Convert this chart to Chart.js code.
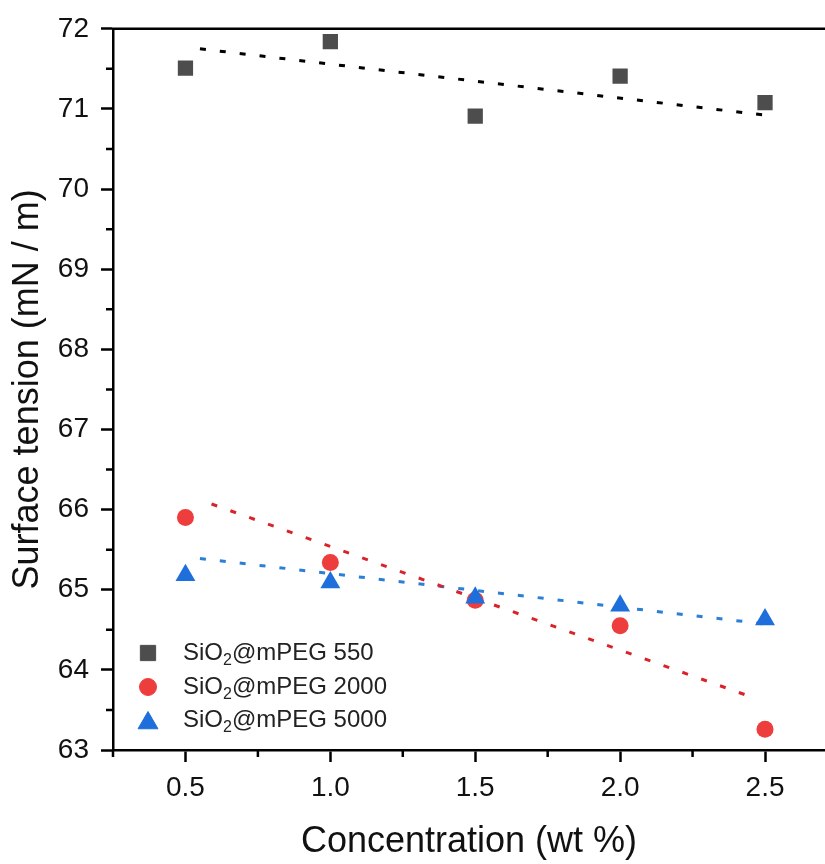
<!DOCTYPE html>
<html>
<head>
<meta charset="utf-8">
<script src="https://cdn.jsdelivr.net/npm/chart.js@4/dist/chart.umd.min.js"></script>
<style>
  body { margin: 0; background: #fff; }
  #wrap { width: 825px; height: 864px; }
</style>
</head>
<body>
<div id="wrap"><canvas id="surfChart" width="825" height="864"></canvas></div>
<script>
// concentrations (wt %)
const conc = [0.5, 1.0, 1.5, 2.0, 2.5]
// surface tension values (mN / m)
const peg550 = [71.51, 71.84, 70.91, 71.41, 71.08]
const peg2000 = [65.90, 65.34, 64.87, 64.55, 63.26]
const peg5000 = [65.18, 65.09, 64.90, 64.80, 64.63]
// dotted fit lines: [x start, x end] and [y start, y end]
const fitX550 = [0.55, 2.53]
const fitY550 = [71.75, 70.91]
const fitX2000 = [0.59, 2.47]
const fitY2000 = [66.07, 63.64]
const fitX5000 = [0.55, 2.53]
const fitY5000 = [65.39, 64.56]
// series names and axis ticks
const seriesNames = ['SiO\u2082@mPEG 550', 'SiO\u2082@mPEG 2000', 'SiO\u2082@mPEG 5000']
const xTickValues = [0.5, 1.0, 1.5, 2.0, 2.5]
const xMinorValues = [0.25, 0.75, 1.25, 1.75, 2.25]
const yTickValues = [63, 64, 65, 66, 67, 68, 69, 70, 71, 72]
const yMinorValues = [63.5, 64.5, 65.5, 66.5, 67.5, 68.5, 69.5, 70.5, 71.5]

const FONT = "'Liberation Sans', Arial, sans-serif"

function pts(xs, ys) {
    return xs.map((x, i) => ({x: x, y: ys[i]}))
}

//draws top frame line, minor ticks and the legend inside the plot
const extras = {
    id: 'extras',
    afterDraw(chart) {
        const ctx = chart.ctx
        const area = chart.chartArea
        const xs = chart.scales.x
        const ys = chart.scales.y
        ctx.save()
        ctx.strokeStyle = '#000'
        ctx.lineWidth = 2.5
        //top line
        ctx.beginPath()
        ctx.moveTo(area.left - 1, area.top)
        ctx.lineTo(chart.width, area.top)
        ctx.stroke()
        //minor ticks
        ctx.beginPath()
        xMinorValues.forEach(v => {
            const px = xs.getPixelForValue(v)
            ctx.moveTo(px, area.bottom)
            ctx.lineTo(px, area.bottom + 7)
        })
        yMinorValues.forEach(v => {
            const py = ys.getPixelForValue(v)
            ctx.moveTo(area.left, py)
            ctx.lineTo(area.left - 7, py)
        })
        ctx.stroke()

        //legend
        const markerX = area.left + 35
        const textX = area.left + 70
        const base = ys.getPixelForValue(63)
        const rowY = [base - 97, base - 63, base - 30]
        const scatter = chart.data.datasets.filter(d => d.isScatter)
        scatter.forEach((ds, i) => {
            const y = rowY[i]
            ctx.fillStyle = ds.backgroundColor
            ctx.strokeStyle = ds.backgroundColor
            ctx.lineWidth = 1
            Chart.helpers.drawPoint(ctx, {pointStyle: ds.pointStyle, radius: ds.pointRadius, rotation: 0, borderWidth: 1}, markerX, ds.pointStyle === 'triangle' ? y + 3 : y)
            //label with subscript 2
            const parts = ds.label.split('\u2082')
            ctx.fillStyle = '#222'
            ctx.textBaseline = 'middle'
            ctx.textAlign = 'left'
            ctx.font = `24px ${FONT}`
            let x = textX
            ctx.fillText(parts[0], x, y)
            x += ctx.measureText(parts[0]).width
            ctx.font = `16px ${FONT}`
            ctx.fillText('2', x, y + 8)
            x += ctx.measureText('2').width
            ctx.font = `24px ${FONT}`
            ctx.fillText(parts[1], x, y)
        })
        ctx.restore()
    }
}

const fitStyle = {
    type: 'line',
    pointRadius: 0,
    borderWidth: 3,
    borderDash: [6, 14],
    fill: false,
    showLine: true
}

new Chart('surfChart', {
    type: 'scatter',
    data: {
        datasets: [
            {label: seriesNames[0], data: pts(conc, peg550), isScatter: true, pointStyle: 'rect', pointRadius: 10.8, backgroundColor: '#4d4d4d', borderColor: '#4d4d4d', borderWidth: 0, order: 3},
            {label: seriesNames[1], data: pts(conc, peg2000), isScatter: true, pointStyle: 'circle', pointRadius: 8.5, backgroundColor: '#ee3d3d', borderColor: '#ee3d3d', borderWidth: 0, order: 2},
            {label: seriesNames[2], data: pts(conc, peg5000), isScatter: true, pointStyle: 'triangle', pointRadius: 11.5, backgroundColor: '#1e6fdb', borderColor: '#1e6fdb', borderWidth: 0, order: 1},
            Object.assign({label: 'fit550', data: pts(fitX550, fitY550), borderColor: '#000', order: 4}, fitStyle),
            Object.assign({label: 'fit2000', data: pts(fitX2000, fitY2000), borderColor: '#d8232a', order: 5}, fitStyle),
            Object.assign({label: 'fit5000', data: pts(fitX5000, fitY5000), borderColor: '#2b7fd6', order: 6}, fitStyle)
        ]
    },
    options: {
        responsive: false,
        animation: false,
        layout: {autoPadding: false, padding: {top: 28, right: 0, left: 0, bottom: 0}},
        plugins: {
            legend: {display: false},
            tooltip: {enabled: false}
        },
        scales: {
            x: {
                type: 'linear',
                min: 0.25,
                max: 2.707,
                afterBuildTicks: (s) => { s.ticks = xTickValues.map(v => ({value: v})) },
                afterFit: (s) => { s.height = 114; s.paddingRight = 0; s.paddingLeft = 0 },
                grid: {drawOnChartArea: false, tickLength: 12, tickWidth: 2.5, tickColor: '#000'},
                border: {color: '#000', width: 2.5},
                ticks: {
                    color: '#111',
                    padding: 9,
                    font: {family: FONT, size: 28},
                    callback: (v) => Number(v).toFixed(1)
                },
                title: {
                    display: true,
                    text: 'Concentration (wt %)',
                    color: '#111',
                    font: {family: FONT, size: 36},
                    padding: {top: 0, bottom: 0}
                }
            },
            y: {
                type: 'linear',
                min: 63,
                max: 72,
                afterBuildTicks: (s) => { s.ticks = yTickValues.map(v => ({value: v})) },
                afterFit: (s) => { s.width = 113 },
                grid: {drawOnChartArea: false, tickLength: 12, tickWidth: 2.5, tickColor: '#000'},
                border: {color: '#000', width: 2.5},
                ticks: {
                    color: '#111',
                    padding: 12,
                    font: {family: FONT, size: 28},
                    callback: (v) => String(v)
                },
                title: {
                    display: true,
                    text: 'Surface tension (mN / m)',
                    color: '#111',
                    font: {family: FONT, size: 36},
                    padding: {top: 6, bottom: 0}
                }
            }
        }
    },
    plugins: [extras]
})
</script>
</body>
</html>
